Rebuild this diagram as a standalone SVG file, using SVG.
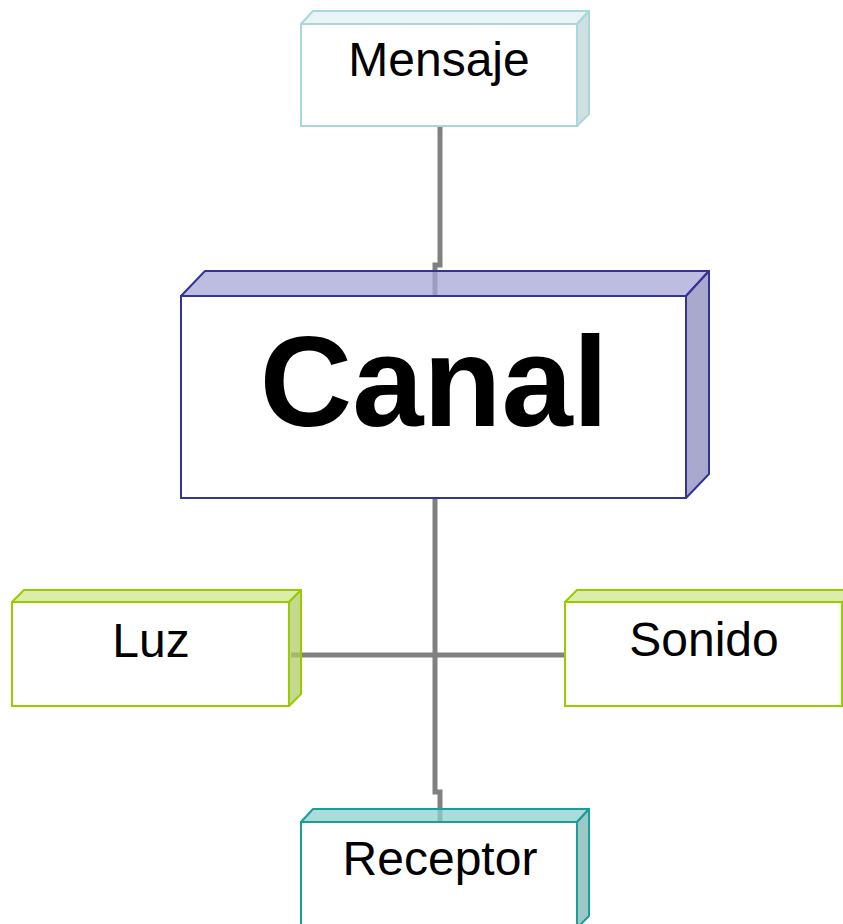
<svg xmlns="http://www.w3.org/2000/svg" width="843" height="924" viewBox="0 0 843 924">
<style>
.conn{fill:none;stroke:#808080;stroke-width:5;stroke-linejoin:miter}
.front{fill:#ffffff;stroke-width:2}
.face{stroke-width:2;stroke-linejoin:round}
.lbl{font-family:"Liberation Sans",Arial,sans-serif;fill:#000;text-anchor:middle;font-size:48px}
.big{font-family:"Liberation Sans",Arial,sans-serif;fill:#000;text-anchor:middle;font-size:128px;font-weight:bold}
.cyan{stroke:#a9d8dc}
.blue{stroke:#333399}
.green{stroke:#99cc00}
.teal{stroke:#1a9e9a}
</style>
<rect width="843" height="924" fill="#ffffff"/>
<g id="connectors">
<path class="conn" d="M440,126 V265 H435 V297"/>
<path class="conn" d="M435,498 V792 H440 V823"/>
<path class="conn" d="M291,655 H566"/>
</g>
<g id="mensaje">
<polygon class="face cyan" fill="#e0f0f3" fill-opacity="0.75" points="301,24 313,11 589,11 577,24"/>
<polygon class="face cyan" fill="#c0d6d8" fill-opacity="0.75" points="577,24 589,11 589,114 577,126"/>
<rect class="front cyan" x="301" y="24" width="276" height="102"/>
<text class="lbl" x="439" y="76">Mensaje</text>
</g>
<g id="canal">
<polygon class="face blue" fill="#a6a7d6" fill-opacity="0.75" points="181,296 205,271 709,271 686,296"/>
<polygon class="face blue" fill="#8b8cbb" fill-opacity="0.75" points="686,296 709,271 709,474 686,498"/>
<rect class="front blue" x="181" y="296" width="505" height="202"/>
<text class="big" x="434" y="426">Canal</text>
</g>
<g id="luz">
<polygon class="face green" fill="#d0e78e" fill-opacity="0.75" points="12,602 24,590 301,590 289,602"/>
<polygon class="face green" fill="#b0cb68" fill-opacity="0.75" points="289,602 301,590 301,694 289,706"/>
<rect class="front green" x="12" y="602" width="277" height="104"/>
<text class="lbl" x="151" y="657">Luz</text>
</g>
<g id="sonido">
<polygon class="face green" fill="#d0e78e" fill-opacity="0.75" points="565,602 577,590 855,590 843,602"/>
<rect class="front green" x="565" y="602" width="277" height="104"/>
<text class="lbl" x="704" y="656">Sonido</text>
</g>
<g id="receptor">
<polygon class="face teal" fill="#8ed0ce" fill-opacity="0.75" points="301,822 313,809 589,809 577,822"/>
<polygon class="face teal" fill="#7bb6b3" fill-opacity="0.75" points="577,822 589,809 589,916 577,928"/>
<rect class="front teal" x="301" y="822" width="276" height="110"/>
<text class="lbl" x="440" y="875">Receptor</text>
</g>
</svg>
